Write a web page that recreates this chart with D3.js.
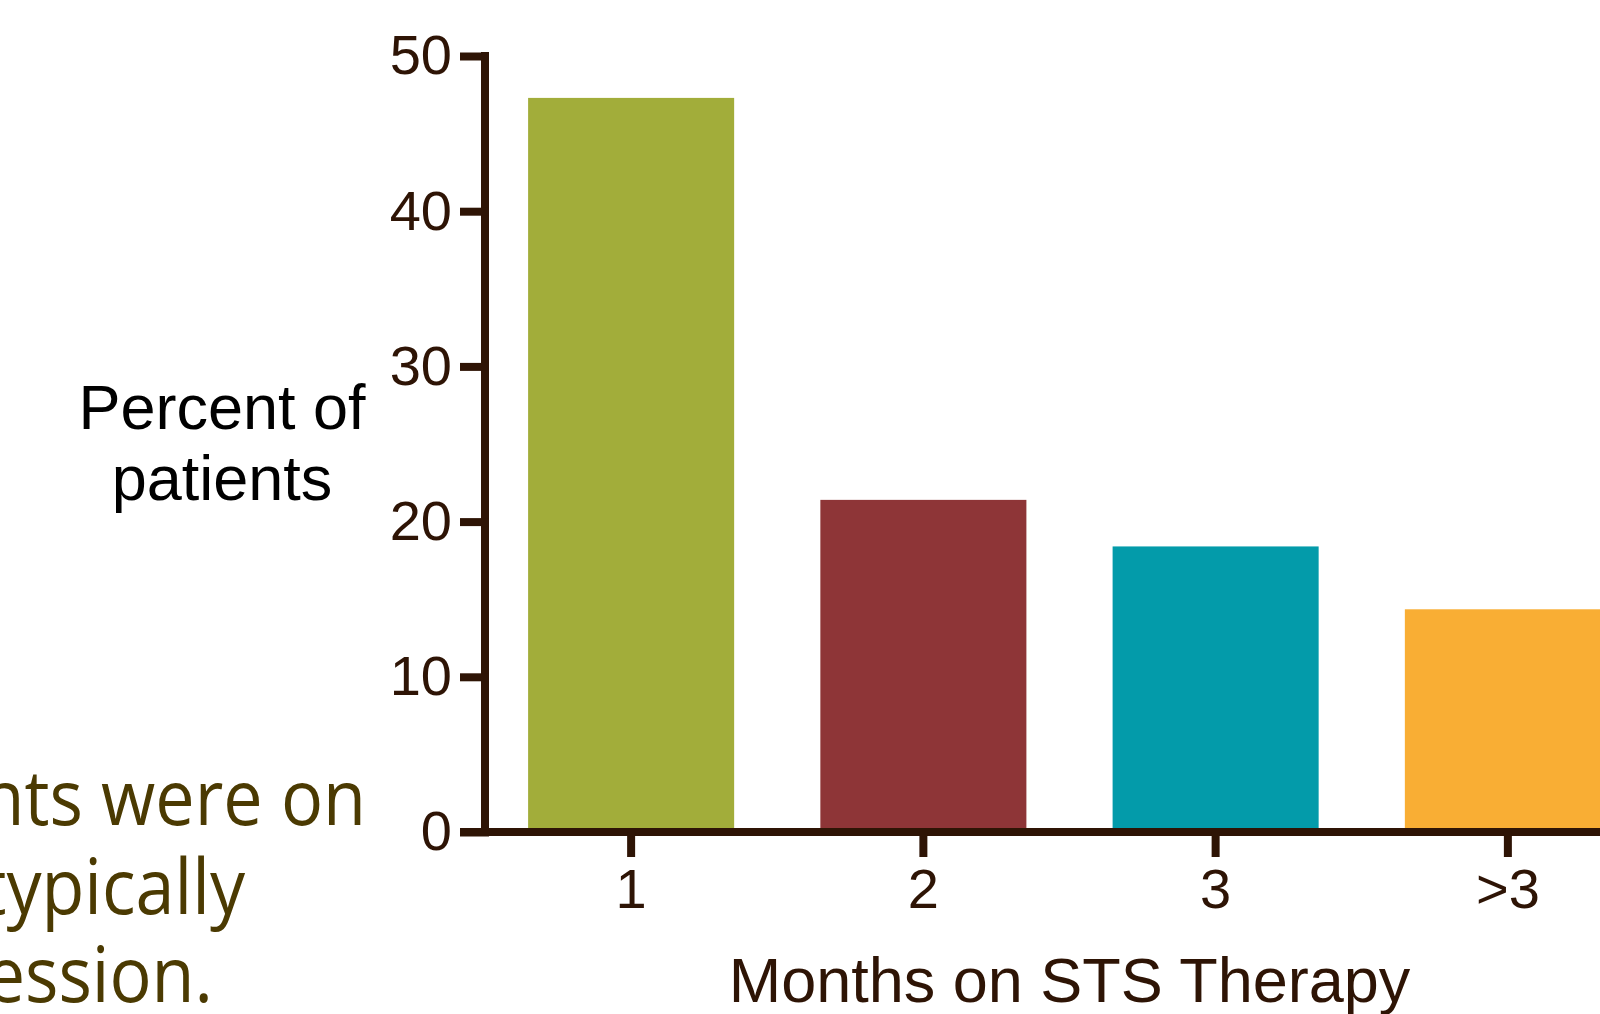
<!DOCTYPE html>
<html>
<head>
<meta charset="utf-8">
<script src="https://cdn.jsdelivr.net/npm/d3@7"></script>
<style>
  html, body { margin: 0; padding: 0; background: #ffffff; overflow: hidden; }
  svg { display: block; }
</style>
</head>
<body>
<svg id="chart" width="1600" height="1014"></svg>
<script>
// ---- data ----
const categories = ["1", "2", "3", ">3"];
const percentValues = [47.3, 21.4, 18.4, 14.35];
const barColors = ["#A2AD3A", "#8E3537", "#039BAA", "#F9AE34"];
const yTicks = [0, 10, 20, 30, 40, 50];
const yTitleLines = ["Percent of", "patients"];
const xTitle = "Months on STS Therapy";
const sideTextLines = ["nts were on", "typically", "ession."];

// ---- layout ----
const svg = d3.select("#chart");
const axisColor = "#2E1405";
const chartFont = "'Liberation Sans', Arial, sans-serif";
const axisWidth = 8;

const x = d3.scaleBand()
  .domain(categories)
  .range([485, 1654])
  .paddingInner(0.295)
  .paddingOuter(0.1475);

const y = d3.scaleLinear()
  .domain([0, 50])
  .range([832, 56]);

// bars
svg.append("g")
  .selectAll("rect")
  .data(categories)
  .join("rect")
  .attr("x", d => x(d))
  .attr("width", x.bandwidth())
  .attr("y", (d, i) => y(percentValues[i]))
  .attr("height", (d, i) => y(0) - y(percentValues[i]))
  .attr("fill", (d, i) => barColors[i]);

// y axis
const yAxis = svg.append("g")
  .attr("transform", `translate(${x.range()[0]},0)`)
  .call(d3.axisLeft(y).tickValues(yTicks).tickSize(25).tickSizeOuter(0).tickPadding(8));

// x axis
const xAxis = svg.append("g")
  .attr("transform", `translate(0,${y(0)})`)
  .call(d3.axisBottom(x).tickSize(25).tickSizeOuter(0).tickPadding(11));

[yAxis, xAxis].forEach(g => {
  g.selectAll(".domain").attr("stroke", axisColor).attr("stroke-width", axisWidth).attr("stroke-linecap", "butt");
  g.selectAll(".tick line").attr("stroke", axisColor).attr("stroke-width", axisWidth);
  g.selectAll(".tick text")
    .attr("fill", axisColor)
    .style("font-family", chartFont)
    .style("font-size", "56px");
});
yAxis.selectAll(".tick line").attr("x2", -25).attr("x1", axisWidth / 2);
xAxis.select(".domain").attr("d", `M${x.range()[0] - 25},0H1600`);
yAxis.select(".domain").attr("d", `M0,${y(50) - axisWidth / 2}V${y(0)}`);

// y title
svg.append("text")
  .attr("text-anchor", "middle")
  .attr("fill", "#000000")
  .style("font-family", chartFont)
  .style("font-size", "63px")
  .selectAll("tspan")
  .data(yTitleLines)
  .join("tspan")
  .attr("x", 222)
  .attr("y", (d, i) => 429 + i * 71)
  .text(d => d);

// x title
svg.append("text")
  .attr("x", (x.range()[0] + x.range()[1]) / 2)
  .attr("y", 1002)
  .attr("text-anchor", "middle")
  .attr("fill", axisColor)
  .style("font-family", chartFont)
  .style("font-size", "63px")
  .text(xTitle);

// cut-off side text (slide body text), a narrow humanist face
const sideRight = [366, 245, 213];
svg.append("g")
  .selectAll("text")
  .data(sideTextLines)
  .join("text")
  .attr("transform", (d, i) => `translate(${sideRight[i]},${825 + i * 88.5}) scale(0.91,1)`)
  .attr("text-anchor", "end")
  .attr("fill", "#4B3A02")
  .style("font-family", "'Open Sans', 'Noto Sans', sans-serif")
  .style("font-size", "77px")
  .text(d => d);
</script>
</body>
</html>
